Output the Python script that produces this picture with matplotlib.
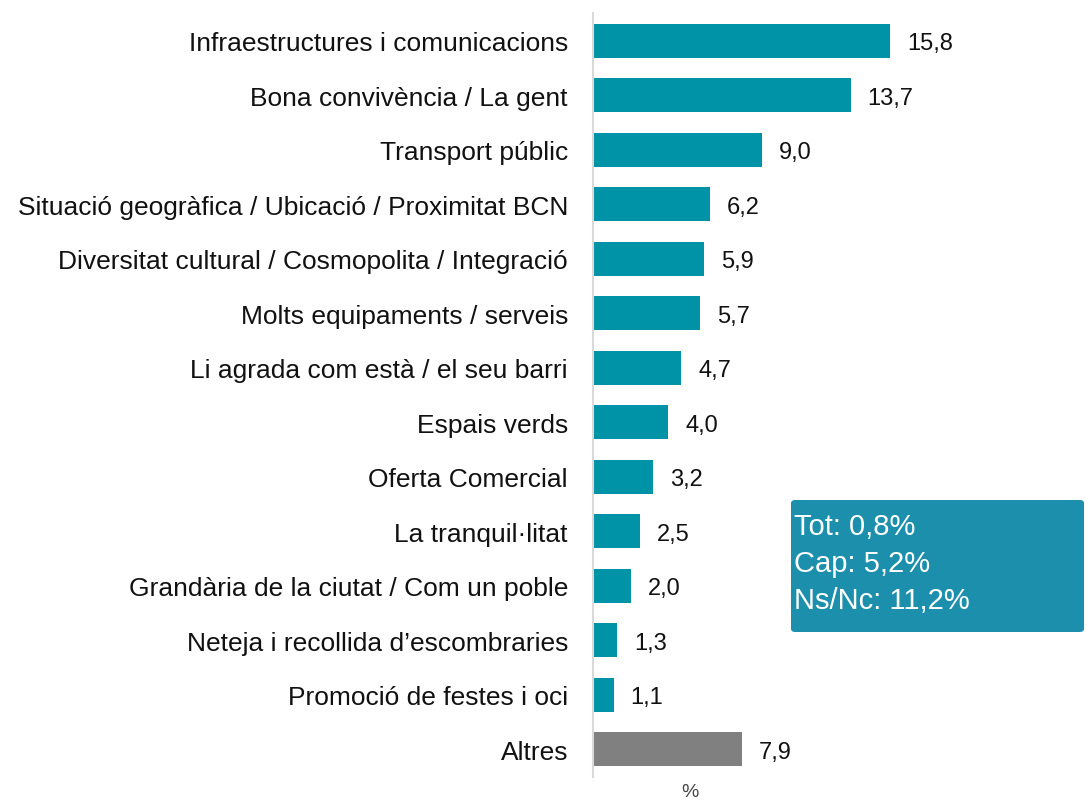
import matplotlib.pyplot as plt
from matplotlib.patches import FancyBboxPatch

plt.rcParams['font.family'] = ['Liberation Sans', 'DejaVu Sans']

# data
categories = ["Infraestructures i comunicacions", "Bona convivència / La gent",
              "Transport públic", "Situació geogràfica / Ubicació / Proximitat BCN",
              "Diversitat cultural / Cosmopolita / Integració",
              "Molts equipaments / serveis", "Li agrada com està / el seu barri",
              "Espais verds", "Oferta Comercial", "La tranquil·litat",
              "Grandària de la ciutat / Com un poble",
              "Neteja i recollida d’escombraries", "Promoció de festes i oci",
              "Altres"]
values = [15.8, 13.7, 9.0, 6.2, 5.9, 5.7, 4.7, 4.0, 3.2, 2.5, 2.0, 1.3, 1.1, 7.9]
box_lines = ["Tot: 0,8%", "Cap: 5,2%", "Ns/Nc: 11,2%"]

teal = "#0093a8"
grey = "#808080"
colors = [teal] * (len(values) - 1) + [grey]

fig = plt.figure(figsize=(10.86, 8.03), dpi=100)
ax = fig.add_axes([593 / 1086, 1 - 778 / 803, 1 - 593 / 1086, (778 - 14) / 803])

y = list(range(len(values)))
ax.barh(y, values, height=0.62, color=colors)
for yi, v in zip(y, values):
    ax.text(v + 0.9, yi, f"{v:.1f}".replace(".", ","), va="center_baseline", ha="left",
            fontsize=17, color="#111111")

ax.set_ylim(len(values) - 0.49, -0.51)
ax.set_xlim(0, 26.2)
ax.set_yticks(y)
ax.set_yticklabels(categories, fontsize=19, color="#111111")
ax.tick_params(axis="y", length=0, pad=18)
ax.set_xticks([])
for s in ["top", "right", "bottom"]:
    ax.spines[s].set_visible(False)
ax.spines["left"].set_color("#d9d9d9")
ax.spines["left"].set_linewidth(1.5)

fig.text(690 / 1086, 0.002, "%", ha="center", va="bottom",
         fontsize=14, color="#444444")

# side note box
box = FancyBboxPatch((791 / 1086, 1 - 633 / 803), (1086 - 793) / 1086, 132 / 803,
                     boxstyle="round,pad=0,rounding_size=0.004",
                     transform=fig.transFigure, facecolor="#1b8fab",
                     edgecolor="none")
fig.patches.append(box)
for i, line in enumerate(box_lines):
    fig.text(794 / 1086, 1 - (535 + 37 * i) / 803, line, ha="left", va="baseline",
             fontsize=21, color="white")

fig.savefig("out.png", dpi=100)
